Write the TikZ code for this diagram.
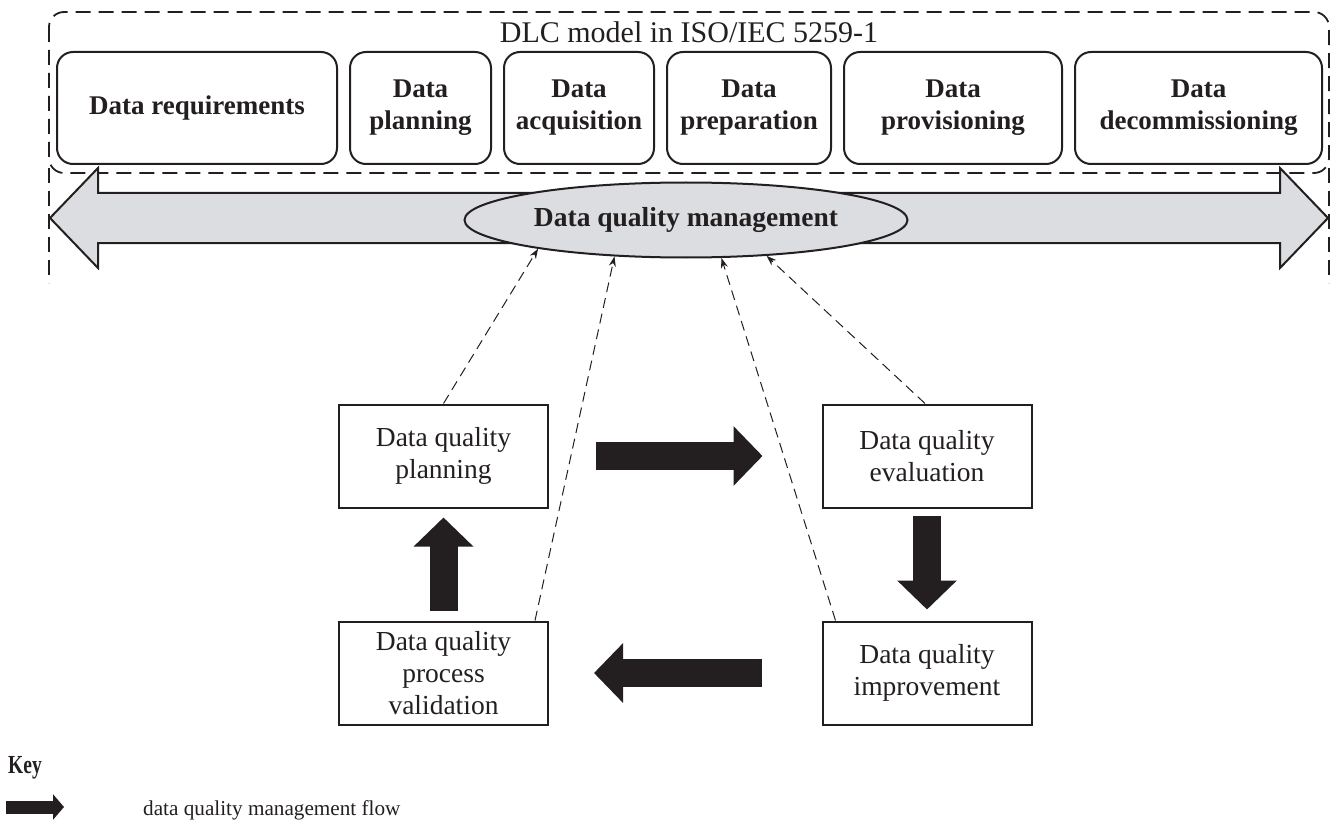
\documentclass[tikz,border=0pt]{standalone}
\usepackage{fontspec}
\setmainfont{Liberation Serif}
\usepackage{graphicx}
\usepackage{tikz}
\usetikzlibrary{positioning,arrows.meta,shapes.geometric}

\definecolor{bandgray}{RGB}{220,221,224}
\definecolor{ink}{RGB}{35,31,32}

\tikzset{
  phase/.style={draw=ink, text=ink, line width=2pt, rounded corners=16pt,
    minimum height=112pt, inner sep=0pt, align=center,
    font=\fontsize{27}{32}\selectfont\bfseries},
  dqbox/.style={draw=ink, text=ink, line width=2pt, minimum width=209pt,
    minimum height=103pt, align=center, font=\fontsize{27.5}{32}\selectfont},
  frame/.style={ink, line width=1.8pt, dash pattern=on 15pt off 8pt},
  flow/.style={ink, line width=28pt, -{Triangle[length=29pt,width=58pt]}},
  keyflow/.style={ink, line width=13pt, -{Triangle[length=11pt,width=25pt]}},
  feed/.style={ink, line width=1pt, dash pattern=on 10pt off 6pt,
    -{Stealth[length=10pt,width=7pt]}},
}

\begin{document}
\begin{tikzpicture}[x=1pt,y=-1pt]
  \useasboundingbox (0,0) rectangle (1333,821);

  % DLC frame
  \draw[frame, rounded corners=15pt] (49,12) rectangle (1329,173);
  \draw[frame] (49,168) -- (49,283);
  \draw[frame] (1329,168) -- (1329,283);
  \node[font=\fontsize{30}{32}\selectfont, text=ink] (dlc) at (689,32) {DLC model in ISO/IEC 5259-1};

  % phases
  \node[phase, minimum width=280pt] (req) at (197,108) {Data requirements};
  \node[phase, minimum width=141pt, right=11pt of req] (plng) {Data\\planning};
  \node[phase, minimum width=150pt, right=11pt of plng] (acq) {Data\\acquisition};
  \node[phase, minimum width=164pt, right=11pt of acq] (prep) {Data\\preparation};
  \node[phase, minimum width=218pt, right=11pt of prep] (prov) {Data\\provisioning};
  \node[phase, minimum width=247pt, right=11pt of prov] (decom) {Data\\decommissioning};

  % band
  \draw[ink, line width=2pt, fill=bandgray] (50,218) -- (98,168) -- (98,193) -- (1280,193)
    -- (1280,168) -- (1328,218) -- (1280,268) -- (1280,243) -- (98,243) -- (98,268) -- cycle;
  \node[ellipse, draw=ink, line width=2pt, fill=bandgray, inner sep=0pt,
    minimum width=443pt, minimum height=75pt,
    label={[font=\fontsize{27.5}{32}\selectfont\bfseries, text=ink]center:Data quality management}]
    (dqm) at (686,220) {};

  % cycle
  \node[dqbox] (plan) at (443.5,456) {Data quality\\planning};
  \node[dqbox] (eval) at (927,456) {Data quality\\evaluation};
  \node[dqbox] (improv) at (927,673) {Data quality\\improvement};
  \node[dqbox] (valid) at (443.5,673) {Data quality\\process\\validation};

  \draw[flow, shorten <=47pt, shorten >=59pt] (plan.east) -- (eval.west);
  \draw[flow, shorten <=7pt, shorten >=11pt] (eval.south) -- (improv.north);
  \draw[flow, shorten <=60pt, shorten >=45pt] (improv.west) -- (valid.east);
  \draw[flow, shorten <=10pt, shorten >=9pt] (valid.north) -- (plan.south);

  % feeds
  \draw[feed] (plan.north) -- (dqm.191);
  \draw[feed] ([xshift=-14pt]valid.north east) -- (dqm.207);
  \draw[feed] ([xshift=14pt]improv.north west) -- (dqm.313);
  \draw[feed] ([xshift=-2pt]eval.north) -- (dqm.336);

  % key
  \node[font=\fontsize{26}{28}\selectfont\bfseries, text=ink, anchor=base west, inner sep=0pt] (key) at (8,773) {\scalebox{0.75}[1]{Key}};
  \coordinate (ka) at (6,807);
  \coordinate (kb) at (64,807);
  \draw[keyflow] (ka) -- (kb);
  \node[font=\fontsize{21.2}{24}\selectfont, text=ink, anchor=base west, inner sep=0pt] (keytxt) at (143,815) {data quality management flow};
\end{tikzpicture}
\end{document}
